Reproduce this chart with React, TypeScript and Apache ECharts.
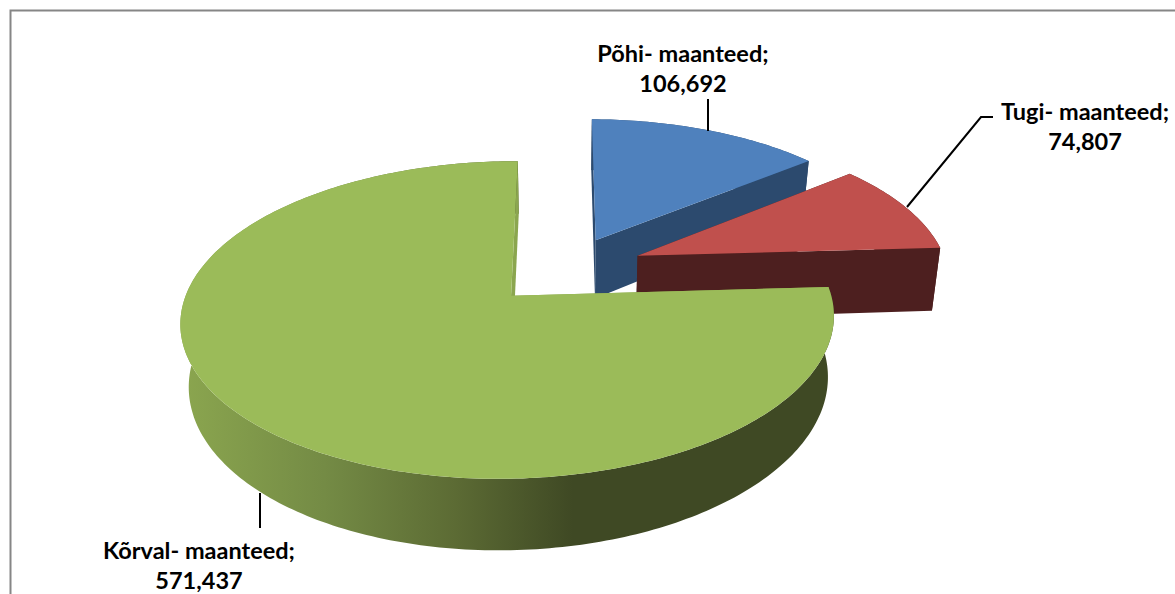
import React, { useEffect, useRef } from "react";
import * as echarts from "echarts";

const categories = ["Põhi- maanteed", "Tugi- maanteed", "Kõrval- maanteed"];
const roadValues = [106692, 74807, 571437];
const valueLabels = ["106,692", "74,807", "571,437"];

const topColors = ["#4f81bd", "#c0504d", "#9bbb59"];
const faceColors = ["#2c4a6e", "#4d1f1f", "#8ba64f"];

const W = 1175;
const H = 594;
const CX = 563;
const CY = 270;
const RX = 314;
const RY = 147.3;
const PERSPECTIVE = 0.1486;
const SIDE_PERSPECTIVE = 0.008;
const explode = [0.23, 0.255, 0.23];
const nudge: [number, number][] = [[2.5, 0], [1, -1], [-1, 0.5]];
const depth = [60, 65, 59];
const BASE_SCALE = 0.978;

const labelAnchors: [number, number][] = [
  [683, 53],
  [1085, 111],
  [199, 550],
];
const LINE_GAP = 30;
const leaderLines: [number, number][][] = [
  [[708, 99], [708, 131]],
  [[907, 207], [981, 117], [993, 117]],
  [[260, 493], [260, 528]],
];

const total = roadValues.reduce((a, b) => a + b, 0);

function project(wx: number, wy: number, base: boolean, i: number): [number, number] {
  const w = 1 + PERSPECTIVE * wy + SIDE_PERSPECTIVE * wx;
  let x = CX + (RX * wx) / w;
  let y = CY - (RY * wy) / w;
  if (base) {
    x = CX + (x - CX) * BASE_SCALE;
    y += depth[i] / w;
  }
  return [x + nudge[i][0], y + nudge[i][1]];
}

function renderItem(params: any, api: any) {
  const i = params.dataIndex;
  const value = api.value(0);
  const before = roadValues.slice(0, i).reduce((a, b) => a + b, 0);
  const a0 = (before / total) * Math.PI * 2;
  const a1 = ((before + value) / total) * Math.PI * 2;
  const mid = (a0 + a1) / 2;
  const ox = explode[i] * Math.sin(mid);
  const oy = explode[i] * Math.cos(mid);
  const rim = (a: number, base: boolean) => project(ox + Math.sin(a), oy + Math.cos(a), base, i);
  const apex = (base: boolean) => project(ox, oy, base, i);

  const steps = Math.max(8, Math.round(((a1 - a0) * 180) / Math.PI));
  const topArc: [number, number][] = [];
  const baseArc: [number, number][] = [];
  for (let s = 0; s <= steps; s++) {
    const a = a0 + ((a1 - a0) * s) / steps;
    topArc.push(rim(a, false));
    baseArc.push(rim(a, true));
  }

  const outerFill =
    i === 2
      ? new echarts.graphic.LinearGradient(0, 0, 1, 0, [
          { offset: 0, color: "#8ba64f" },
          { offset: 0.22, color: "#748b45" },
          { offset: 0.42, color: "#5c6b34" },
          { offset: 0.6, color: "#3f4924" },
          { offset: 1, color: "#3f4924" },
        ])
      : faceColors[i];

  const poly = (points: [number, number][], fill: any) => ({
    type: "polygon",
    shape: { points },
    style: { fill },
    silent: true,
  });

  const faceFill = faceColors[i];
  const [lx, ly] = labelAnchors[i];
  const textStyle = {
    fill: "#000000",
    font: "bold 23.5px Lato, 'Open Sans', sans-serif",
    align: "center",
    verticalAlign: "middle",
  };

  const children: any[] = [
    poly([...topArc, ...baseArc.slice().reverse()], outerFill),
    poly([apex(false), rim(a0, false), rim(a0, true), apex(true)], faceFill),
    poly([apex(false), rim(a1, false), rim(a1, true), apex(true)], faceFill),
    poly([apex(false), ...topArc], topColors[i]),
    {
      type: "polyline",
      shape: { points: leaderLines[i] },
      style: { stroke: "#000000", lineWidth: 2, fill: "none" },
      silent: true,
    },
    { type: "text", style: { ...textStyle, text: `${categories[i]};`, x: lx, y: ly } },
    { type: "text", style: { ...textStyle, text: valueLabels[i], x: lx, y: ly + LINE_GAP } },
  ];
  return { type: "group", children };
}

export default function App() {
  const ref = useRef<HTMLDivElement>(null);
  useEffect(() => {
    document.body.style.margin = "0";
    const chart = echarts.init(ref.current!, undefined, { renderer: "svg" });
    chart.setOption({
      animation: false,
      backgroundColor: "#ffffff",
      graphic: [
        {
          type: "polyline",
          silent: true,
          shape: { points: [[10.5, H], [10.5, 10.5], [W, 10.5]] },
          style: { stroke: "#868686", lineWidth: 2, fill: "none" },
        },
      ],
      series: [
        {
          type: "custom",
          coordinateSystem: "none",
          renderItem,
          data: roadValues.map((v, i) => ({ name: categories[i], value: [v] })),
          clip: false,
        },
      ],
    });
    return () => chart.dispose();
  }, []);
  return <div ref={ref} style={{ width: W, height: H }} />;
}
